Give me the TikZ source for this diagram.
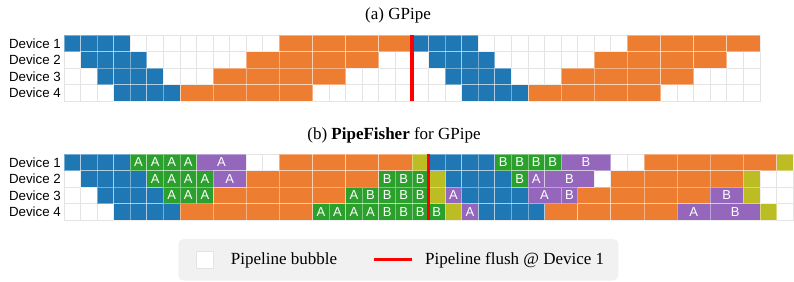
\documentclass[tikz,border=0pt]{standalone}
\usepackage{fontspec}
\setmainfont{Liberation Serif}
\setsansfont{Liberation Sans}
\definecolor{cblue}{HTML}{1F77B4}
\definecolor{corange}{HTML}{ED7D31}
\definecolor{cgreen}{HTML}{2CA02C}
\definecolor{cpurple}{HTML}{9467BD}
\definecolor{colive}{HTML}{BCBD22}
\definecolor{gridgray}{HTML}{E4E4E4}
\definecolor{legbg}{HTML}{F1F1F1}
\tikzset{
  gridln/.style={draw=gridgray, line width=0.8pt},
  cellbd/.style={draw=white, draw opacity=0.4, line width=0.8pt},
  celltxt/.style={text=white, font=\sffamily\fontsize{13}{15}\selectfont, inner sep=0pt},
  devlbl/.style={anchor=east, font=\sffamily\fontsize{13.3}{15}\selectfont, inner sep=0pt},
  ttl/.style={font=\fontsize{17}{20}\selectfont, inner sep=0pt},
  flush/.style={draw=red, line width=3.4pt},
}
\def\cw{16.57}
\def\xo{64}
\newcommand\blk[6]{%
  \draw[cellbd,fill=#5] ({\xo+(#3)*\cw},{#1+(#2)*\cw}) rectangle ({\xo+(#3+#4)*\cw},{#1+(#2+1)*\cw});
  \node[celltxt] at ({\xo+(#3+#4/2)*\cw},{#1+(#2+0.5)*\cw}) {#6};}
\begin{document}
\begin{tikzpicture}[x=1pt,y=-1pt]
\useasboundingbox (0,0) rectangle (794,281);
% titles
\node[ttl] (ta) at (398,15.5) {(a) GPipe};
\node[ttl] (tb) at (394,135.5) {(b) \textbf{PipeFisher} for GPipe};
% grids
\foreach \r in {0,...,3}{
  \foreach \c in {0,...,41}{
    \draw[gridln] ({\xo+\c*\cw},{35+\r*\cw}) rectangle ({\xo+(\c+1)*\cw},{35+(\r+1)*\cw});
  }
  \foreach \c in {0,...,43}{
    \draw[gridln] ({\xo+\c*\cw},{154+\r*\cw}) rectangle ({\xo+(\c+1)*\cw},{154+(\r+1)*\cw});
  }
}
% device labels
\foreach \r/\t in {0/1,1/2,2/3,3/4}{
  \node[devlbl] (da\t) at (61,{35+(\r+0.5)*\cw}) {Device \t};
  \node[devlbl] (db\t) at (61,{154+(\r+0.5)*\cw}) {Device \t};
}
% (a) GPipe
\foreach \r in {0,...,3}{
  \foreach \k in {0,21}{
    \foreach \i in {0,...,3}{
      \blk{35}{\r}{\r+\i+\k}{1}{cblue}{}
      \blk{35}{\r}{13-2*\r+2*\i+\k}{2}{corange}{}
    }
  }
}
% (b) PipeFisher
% blue forward blocks
\foreach \r/\s in {0/0,1/1,2/2,3/3,0/22,1/23,2/24,3/25}{
  \foreach \i in {0,...,3}{\blk{154}{\r}{\s+\i}{1}{cblue}{}}
}
% orange backward blocks
\foreach \r/\s in {0/13,1/11,2/9,3/7,0/35,1/33,2/31,3/29}{
  \foreach \i in {0,...,3}{\blk{154}{\r}{\s+2*\i}{2}{corange}{}}
}
% green single cells
\foreach \r/\c/\l in {0/4/A,0/5/A,0/6/A,0/7/A,0/26/B,0/27/B,0/28/B,0/29/B,
  1/5/A,1/6/A,1/7/A,1/8/A,1/19/B,1/20/B,1/21/B,1/27/B,
  2/6/A,2/7/A,2/8/A,2/17/A,2/18/B,2/19/B,2/20/B,2/21/B,
  3/15/A,3/16/A,3/17/A,3/18/A,3/19/B,3/20/B,3/21/B,3/22/B}{
  \blk{154}{\r}{\c}{1}{cgreen}{\l}
}
% purple blocks
\foreach \r/\c/\n/\l in {0/8/3/A,0/30/3/B,1/9/2/A,1/28/1/A,1/29/3/B,
  2/23/1/A,2/28/2/A,2/30/1/B,2/39/2/B,3/24/1/A,3/37/2/A,3/39/3/B}{
  \blk{154}{\r}{\c}{\n}{cpurple}{\l}
}
% olive cells
\foreach \r/\c in {0/21,0/43,1/22,1/41,2/22,2/41,3/23,3/42}{
  \blk{154}{\r}{\c}{1}{colive}{}
}
% flush lines
\draw[flush] ({\xo+21*\cw},35) -- ({\xo+21*\cw},{35+4*\cw});
\draw[flush] ({\xo+22*\cw},154) -- ({\xo+22*\cw},{154+4*\cw});
% legend
\fill[legbg, rounded corners=5pt] (178.3,239) rectangle (618.3,280.5);
\draw[gridln, fill=white] (196.7,251.7) rectangle (213.3,268.3);
\node[ttl, anchor=west] (lb) at (230.7,260) {Pipeline bubble};
\draw[flush] (374,259.3) -- (412.3,259.3);
\node[ttl, anchor=west] (lf) at (425,260) {Pipeline flush @ Device 1};
\end{tikzpicture}
\end{document}
